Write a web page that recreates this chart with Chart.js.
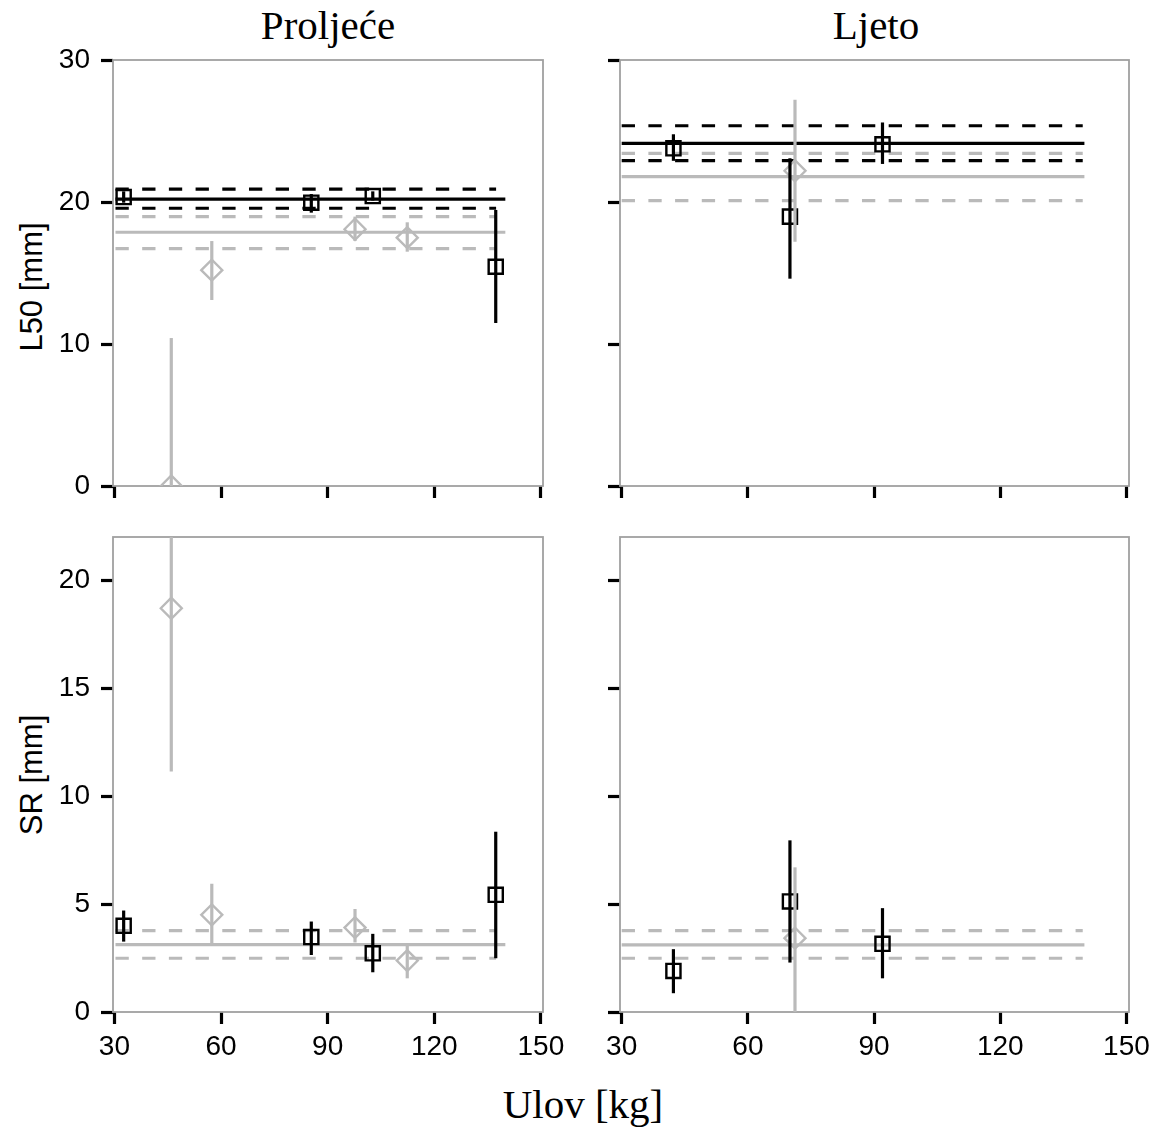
<!DOCTYPE html>
<html>
<head>
<meta charset="utf-8">
<title>L50 i SR prema ulovu</title>
<script src="https://cdn.jsdelivr.net/npm/chart.js@4.4.1/dist/chart.umd.min.js"></script>
<style>
  html, body { margin: 0; padding: 0; background: #fff; }
  #page { position: relative; width: 1160px; height: 1130px; overflow: hidden; background: #fff; }
  .panel { position: absolute; }
  .panel canvas { display: block; }
  .title {
    position: absolute; font-family: 'Liberation Serif', 'Times New Roman', serif;
    font-size: 41px; line-height: 41px; color: #000; white-space: nowrap; transform: translateX(-50%);
  }
  .ytitle {
    position: absolute; font-family: 'Liberation Sans', Arial, sans-serif;
    font-size: 31px; line-height: 31px; color: #000; white-space: nowrap;
    transform: translate(-50%, -50%) rotate(-90deg);
  }
</style>
</head>
<body>
<div id="page">
  <div class="title" style="left:328px; top:5px;">Proljeće</div>
  <div class="title" style="left:876px; top:5px;">Ljeto</div>
  <div class="title" style="left:583px; top:1084px;">Ulov [kg]</div>
  <div class="ytitle" style="left:31px; top:287px;">L50 [mm]</div>
  <div class="ytitle" style="left:31px; top:775px;">SR [mm]</div>

  <div class="panel" style="left:0px; top:0px;"><canvas id="springL50" width="580" height="520"></canvas></div>
  <div class="panel" style="left:580px; top:0px;"><canvas id="summerL50" width="580" height="520"></canvas></div>
  <div class="panel" style="left:0px; top:520px;"><canvas id="springSR" width="580" height="560"></canvas></div>
  <div class="panel" style="left:580px; top:520px;"><canvas id="summerSR" width="580" height="560"></canvas></div>
</div>

<script>
// ---- tick labels ----
const xTicks = [30, 60, 90, 120, 150];
const l50Ticks = [0, 10, 20, 30];
const srTicks = [0, 5, 10, 15, 20];
const xRange = [29.6, 150.6];
const l50Range = [0, 30];
const srRange = [0, 22];

// ---- Proljeće (spring) ----
const springSquareX = [32.6, 85.4, 102.7, 137.3];
const springDiamondX = [46.0, 57.4, 97.7, 112.4];

const springL50Square = [20.35, 19.95, 20.42, 15.44];
const springL50SquareLow = [19.95, 19.25, 20.10, 11.48];
const springL50SquareHigh = [20.75, 20.56, 20.75, 19.44];
const springL50Diamond = [0.0, 15.2, 18.08, 17.49];
const springL50DiamondLow = [0.0, 13.1, 17.25, 16.5];
const springL50DiamondHigh = [10.42, 17.25, 18.97, 18.57];
// fitted level: [lower bound, estimate, upper bound]
const springL50SquareFit = [19.56, 20.2, 20.9];
const springL50DiamondFit = [16.71, 17.87, 18.97];

const springSRSquare = [3.99, 3.47, 2.72, 5.43];
const springSRSquareLow = [3.26, 2.64, 1.84, 2.49];
const springSRSquareHigh = [4.70, 4.19, 3.62, 8.35];
const springSRDiamond = [18.7, 4.5, 3.91, 2.38];
const springSRDiamondLow = [11.14, 3.06, 3.22, 1.56];
const springSRDiamondHigh = [26.26, 5.94, 4.77, 3.19];
const springSRDiamondFit = [2.49, 3.12, 3.77];

const springFitSpan = [30.3, 140];
const springBandSpan = [30.3, 137.4];

// ---- Ljeto (summer) ----
const summerSquareX = [42.3, 70.0, 92.0];
const summerDiamondX = [71.2];

const summerL50Square = [23.78, 18.97, 24.06];
const summerL50SquareLow = [22.9, 14.6, 22.68];
const summerL50SquareHigh = [24.77, 23.08, 25.6];
const summerL50Diamond = [22.2];
const summerL50DiamondLow = [17.2];
const summerL50DiamondHigh = [27.2];
const summerL50SquareFit = [22.91, 24.13, 25.37];
const summerL50DiamondFit = [20.09, 21.78, 23.43];

const summerSRSquare = [1.90, 5.12, 3.16];
const summerSRSquareLow = [0.87, 2.29, 1.56];
const summerSRSquareHigh = [2.91, 7.95, 4.81];
const summerSRDiamond = [3.42];
const summerSRDiamondLow = [0.0];
const summerSRDiamondHigh = [6.7];
const summerSRDiamondFit = [2.49, 3.11, 3.77];

const summerFitSpan = [30.0, 140];
const summerBandSpan = [30.0, 139.6];

// ---- styling ----
const BLACK = '#000000';
const GREY = '#bababa';
const FRAME = '#a0a0a0';
const DASH = [13.3, 13.4];
const LINE_W = 3.2;
const BAR_W = 3.2;
const tickFont = { family: "'Liberation Sans', Arial, sans-serif", size: 28 };

const pts = (xs, ys) => xs.map((x, i) => ({ x, y: ys[i] }));

function fitLines(fit, color, width, fitSpan, bandSpan) {
  const mk = (y, span, dash) => ({
    data: [{ x: span[0], y }, { x: span[1], y }],
    showLine: true, borderColor: color, borderWidth: width, borderDash: dash,
    pointRadius: 0, pointHoverRadius: 0, fill: false, clip: 0
  });
  return [mk(fit[1], fitSpan, []), mk(fit[0], bandSpan, DASH), mk(fit[2], bandSpan, DASH)];
}

function markers(xs, ys, style, color, radius) {
  return {
    data: pts(xs, ys), showLine: false, pointStyle: style, pointRadius: radius, pointHoverRadius: radius,
    borderColor: color, backgroundColor: 'rgba(255,255,255,0)', pointBorderWidth: 2.4, borderWidth: 2.4, clip: 0
  };
}

// box round the plotting area
const frameBox = {
  id: 'frameBox',
  beforeDatasetsDraw(chart) {
    const { ctx, chartArea: a } = chart;
    ctx.save();
    ctx.strokeStyle = FRAME;
    ctx.lineWidth = 1.8;
    ctx.strokeRect(a.left, a.top, a.right - a.left, a.bottom - a.top);
    ctx.restore();
  }
};

// vertical interval bars, placed through the chart's own scales
const errorBars = {
  id: 'errorBars',
  afterDatasetsDraw(chart, args, opts) {
    const { ctx, chartArea: a, scales } = chart;
    ctx.save();
    ctx.beginPath();
    ctx.rect(a.left, a.top, a.right - a.left, a.bottom - a.top);
    ctx.clip();
    ctx.lineCap = 'butt';
    for (const bar of opts.bars || []) {
      ctx.strokeStyle = bar.color;
      ctx.lineWidth = bar.width;
      bar.x.forEach((xv, i) => {
        const px = scales.x.getPixelForValue(xv);
        ctx.beginPath();
        ctx.moveTo(px, scales.y.getPixelForValue(bar.low[i]));
        ctx.lineTo(px, scales.y.getPixelForValue(bar.high[i]));
        ctx.stroke();
      });
    }
    ctx.restore();
  }
};

function makePanel(id, cfg) {
  const axisGrid = { drawOnChartArea: false, drawTicks: true, tickLength: 12, tickWidth: 3.2, tickColor: BLACK };
  return new Chart(document.getElementById(id), {
    type: 'scatter',
    data: { datasets: cfg.datasets },
    plugins: [frameBox, errorBars],
    options: {
      responsive: false,
      animation: false,
      events: [],
      layout: { autoPadding: false, padding: cfg.padding },
      plugins: {
        legend: { display: false },
        tooltip: { enabled: false },
        title: { display: false },
        errorBars: { bars: cfg.bars }
      },
      scales: {
        x: {
          type: 'linear', position: 'bottom', min: xRange[0], max: xRange[1],
          afterBuildTicks: s => { s.ticks = xTicks.map(v => ({ value: v })); },
          grid: axisGrid,
          border: { display: false },
          ticks: { display: cfg.showX, font: tickFont, color: BLACK, padding: 6, maxRotation: 0, autoSkip: false },
          afterFit: s => { s.height = cfg.xHeight; s.paddingLeft = 0; s.paddingRight = 0; }
        },
        y: {
          type: 'linear', position: 'left', min: cfg.yRange[0], max: cfg.yRange[1],
          afterBuildTicks: s => { s.ticks = cfg.yTicks.map(v => ({ value: v })); },
          grid: axisGrid,
          border: { display: false },
          ticks: { display: cfg.showY, font: tickFont, color: BLACK, padding: 11, autoSkip: false },
          afterFit: s => { s.width = cfg.yWidth; s.paddingTop = 0; s.paddingBottom = 0; }
        }
      }
    }
  });
}

// Proljeće – L50
makePanel('springL50', {
  padding: { left: 0, top: 60, right: 37, bottom: 0 },
  yWidth: 113, xHeight: 34, showX: false, showY: true,
  yRange: l50Range, yTicks: l50Ticks,
  datasets: [
    markers(springSquareX, springL50Square, 'rect', BLACK, 10),
    markers(springDiamondX, springL50Diamond, 'rectRot', GREY, 10.5),
    ...fitLines(springL50SquareFit, BLACK, LINE_W, springFitSpan, springBandSpan),
    ...fitLines(springL50DiamondFit, GREY, LINE_W, springFitSpan, springBandSpan)
  ],
  bars: [
    { x: springDiamondX, low: springL50DiamondLow, high: springL50DiamondHigh, color: GREY, width: BAR_W },
    { x: springSquareX, low: springL50SquareLow, high: springL50SquareHigh, color: BLACK, width: BAR_W }
  ]
});

// Ljeto – L50
makePanel('summerL50', {
  padding: { left: 0, top: 60, right: 31, bottom: 0 },
  yWidth: 40, xHeight: 34, showX: false, showY: false,
  yRange: l50Range, yTicks: l50Ticks,
  datasets: [
    markers(summerSquareX, summerL50Square, 'rect', BLACK, 10),
    markers(summerDiamondX, summerL50Diamond, 'rectRot', GREY, 10.5),
    ...fitLines(summerL50SquareFit, BLACK, LINE_W, summerFitSpan, summerBandSpan),
    ...fitLines(summerL50DiamondFit, GREY, LINE_W, summerFitSpan, summerBandSpan)
  ],
  bars: [
    { x: summerDiamondX, low: summerL50DiamondLow, high: summerL50DiamondHigh, color: GREY, width: BAR_W },
    { x: summerSquareX, low: summerL50SquareLow, high: summerL50SquareHigh, color: BLACK, width: BAR_W }
  ]
});

// Proljeće – SR
makePanel('springSR', {
  padding: { left: 0, top: 17, right: 37, bottom: 0 },
  yWidth: 113, xHeight: 68, showX: true, showY: true,
  yRange: srRange, yTicks: srTicks,
  datasets: [
    markers(springSquareX, springSRSquare, 'rect', BLACK, 10),
    markers(springDiamondX, springSRDiamond, 'rectRot', GREY, 10.5),
    ...fitLines(springSRDiamondFit, GREY, LINE_W, springFitSpan, springBandSpan)
  ],
  bars: [
    { x: springDiamondX, low: springSRDiamondLow, high: springSRDiamondHigh, color: GREY, width: BAR_W },
    { x: springSquareX, low: springSRSquareLow, high: springSRSquareHigh, color: BLACK, width: BAR_W }
  ]
});

// Ljeto – SR
makePanel('summerSR', {
  padding: { left: 0, top: 17, right: 31, bottom: 0 },
  yWidth: 40, xHeight: 68, showX: true, showY: false,
  yRange: srRange, yTicks: srTicks,
  datasets: [
    markers(summerSquareX, summerSRSquare, 'rect', BLACK, 10),
    markers(summerDiamondX, summerSRDiamond, 'rectRot', GREY, 10.5),
    ...fitLines(summerSRDiamondFit, GREY, LINE_W, summerFitSpan, summerBandSpan)
  ],
  bars: [
    { x: summerDiamondX, low: summerSRDiamondLow, high: summerSRDiamondHigh, color: GREY, width: BAR_W },
    { x: summerSquareX, low: summerSRSquareLow, high: summerSRSquareHigh, color: BLACK, width: BAR_W }
  ]
});
</script>
</body>
</html>
